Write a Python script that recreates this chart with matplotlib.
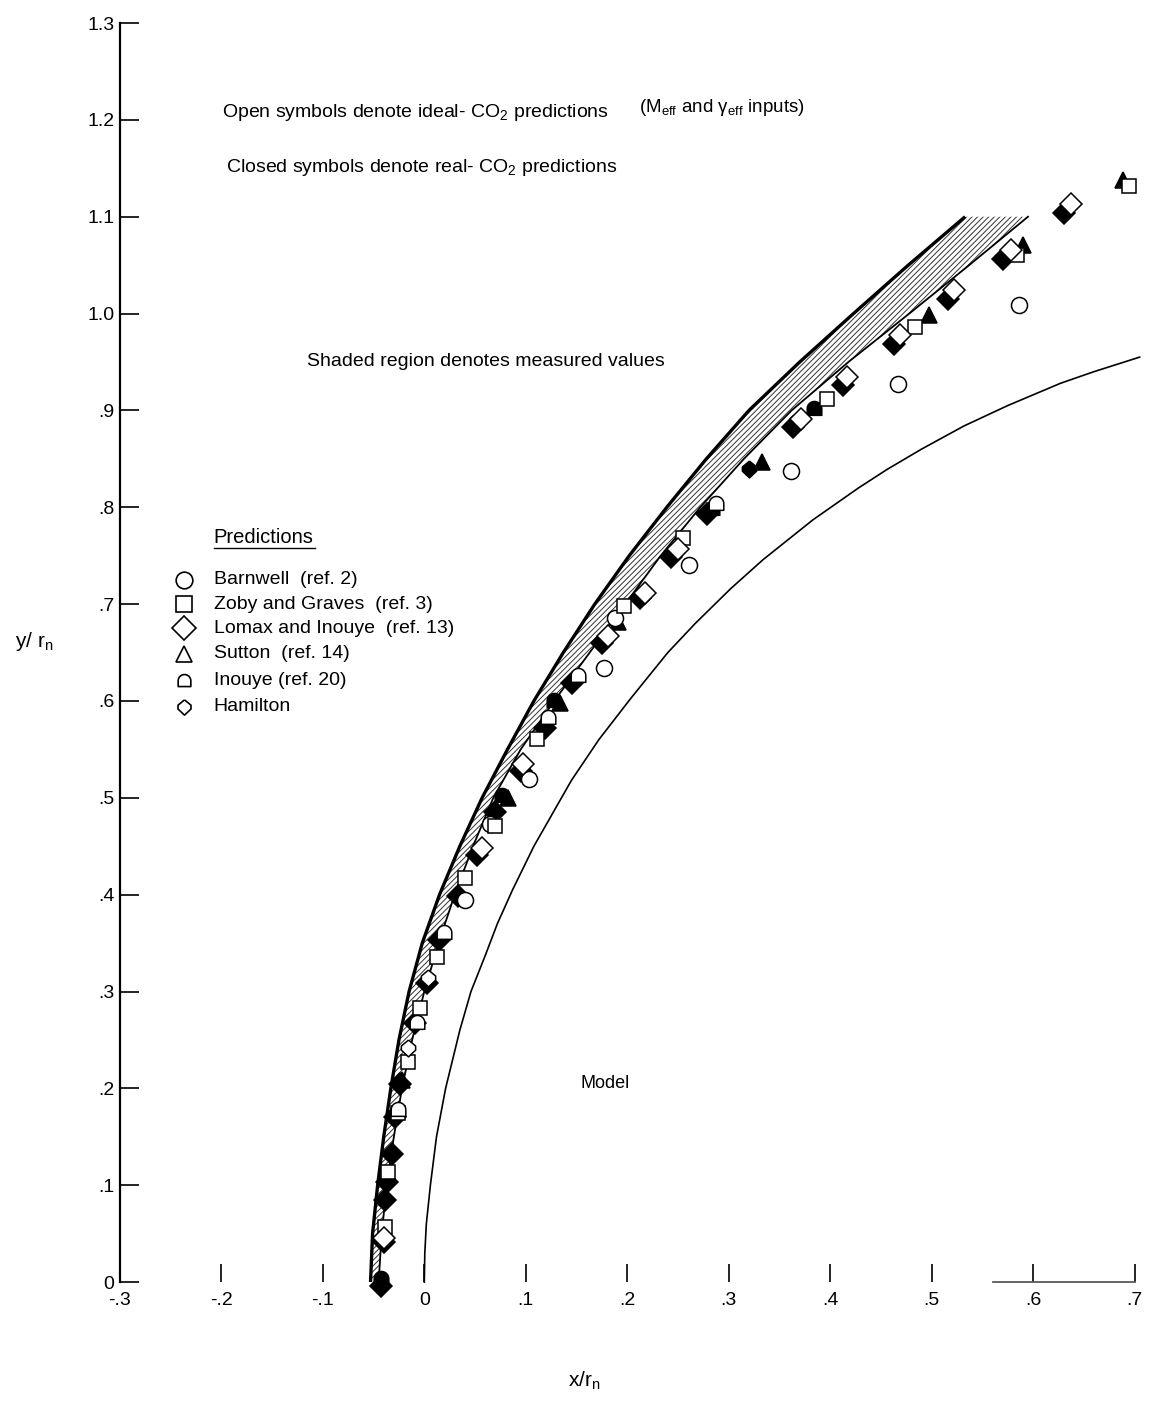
import numpy as np
import matplotlib
matplotlib.use("Agg")
import matplotlib.pyplot as plt

plt.rcParams['font.family'] = ['Liberation Sans', 'DejaVu Sans']
plt.rcParams['mathtext.default'] = 'regular'
plt.rcParams['hatch.linewidth'] = 0.7

# body contour (sphere nose)
model_x = [0.0, 0.0005, 0.002, 0.006, 0.012, 0.021, 0.035, 0.046, 0.060, 0.072,
           0.087, 0.108, 0.145, 0.172, 0.203, 0.240, 0.267, 0.302, 0.334, 0.383,
           0.428, 0.456, 0.490, 0.532, 0.575, 0.627, 0.660, 0.705]
model_y = [0.0, 0.03, 0.06, 0.10, 0.15, 0.20, 0.26, 0.30, 0.337, 0.37,
           0.405, 0.45, 0.518, 0.56, 0.602, 0.65, 0.68, 0.716, 0.746, 0.787,
           0.82, 0.839, 0.86, 0.884, 0.905, 0.928, 0.94, 0.955]

# measured shock band, outer and inner edges
outer_x = [-0.053, -0.051, -0.046, -0.040, -0.033, -0.025, -0.015, -0.002, 0.015, 0.035,
           0.057, 0.082, 0.108, 0.137, 0.168, 0.202, 0.239, 0.278, 0.320, 0.370,
           0.423, 0.477, 0.533]
outer_y = [0.0, 0.05, 0.10, 0.15, 0.20, 0.25, 0.30, 0.35, 0.40, 0.45,
           0.50, 0.55, 0.60, 0.65, 0.70, 0.75, 0.80, 0.85, 0.90, 0.95,
           1.00, 1.05, 1.10]
inner_x = [-0.045, -0.042, -0.037, -0.030, -0.022, -0.012, 0.000, 0.014, 0.030, 0.048,
           0.068, 0.095, 0.128, 0.163, 0.198, 0.233, 0.272, 0.315, 0.362, 0.418,
           0.478, 0.537, 0.595]
inner_y = [0.0, 0.05, 0.10, 0.15, 0.20, 0.25, 0.30, 0.35, 0.40, 0.45,
           0.50, 0.55, 0.60, 0.65, 0.70, 0.75, 0.80, 0.85, 0.90, 0.95,
           1.00, 1.05, 1.10]

# predictions: open = ideal gas, closed = real gas
barnwell_open_x = [0.586, 0.467, 0.361, 0.261, 0.177, 0.188, 0.103, 0.065, 0.040]
barnwell_open_y = [1.009, 0.927, 0.837, 0.740, 0.634, 0.686, 0.519, 0.473, 0.394]

zoby_open_x = [0.695, 0.584, 0.484, 0.397, 0.255, 0.197, 0.111, 0.070, 0.040, 0.013,
               -0.004, -0.016, -0.026, -0.036, -0.039]
zoby_open_y = [1.132, 1.060, 0.986, 0.912, 0.768, 0.698, 0.561, 0.471, 0.417, 0.336,
               0.283, 0.227, 0.175, 0.114, 0.057]

lomax_open_x = [0.637, 0.578, 0.522, 0.469, 0.417, 0.371, 0.250, 0.218, 0.181, 0.097,
                0.057, -0.040]
lomax_open_y = [1.113, 1.066, 1.024, 0.978, 0.935, 0.891, 0.757, 0.711, 0.667, 0.535,
                0.448, 0.045]
lomax_closed_x = [0.630, 0.570, 0.516, 0.463, 0.413, 0.363, 0.279, 0.243, 0.213, 0.175,
                  0.146, 0.119, 0.095, 0.070, 0.052, 0.033, 0.014, 0.003, -0.009, -0.024,
                  -0.029, -0.032, -0.037, -0.039, -0.040, -0.043]
lomax_closed_y = [1.104, 1.056, 1.015, 0.969, 0.926, 0.883, 0.793, 0.749, 0.706, 0.660,
                  0.619, 0.572, 0.528, 0.485, 0.441, 0.399, 0.353, 0.309, 0.268, 0.204,
                  0.170, 0.132, 0.103, 0.085, 0.041, -0.004]

sutton_closed_x = [0.689, 0.590, 0.497, 0.333, 0.191, 0.134, 0.082, -0.022]
sutton_closed_y = [1.138, 1.071, 0.998, 0.847, 0.682, 0.598, 0.500, 0.209]

inouye_open_x = [0.287, 0.151, 0.122, 0.019, -0.007, -0.026]
inouye_open_y = [0.803, 0.626, 0.582, 0.360, 0.268, 0.178]
inouye_closed_x = [0.384, 0.284, 0.128, 0.077, -0.043]
inouye_closed_y = [0.901, 0.798, 0.600, 0.502, 0.003]

hamilton_open_x = [0.004, -0.016]
hamilton_open_y = [0.314, 0.242]
hamilton_closed_x = [0.320]
hamilton_closed_y = [0.839]

legend_names = ['Barnwell  (ref. 2)', 'Zoby and Graves  (ref. 3)',
                'Lomax and Inouye  (ref. 13)', 'Sutton  (ref. 14)',
                'Inouye (ref. 20)', 'Hamilton']
legend_y = [0.725, 0.700, 0.675, 0.649, 0.621, 0.594]

xticks = [-0.3, -0.2, -0.1, 0.0, 0.1, 0.2, 0.3, 0.4, 0.5, 0.6, 0.7]
xtick_labels = ['-.3', '-.2', '-.1', '0', '.1', '.2', '.3', '.4', '.5', '.6', '.7']
yticks = [0.0, 0.1, 0.2, 0.3, 0.4, 0.5, 0.6, 0.7, 0.8, 0.9, 1.0, 1.1, 1.2, 1.3]
ytick_labels = ['0', '.1', '.2', '.3', '.4', '.5', '.6', '.7', '.8', '.9',
                '1.0', '1.1', '1.2', '1.3']

# marker outlines (closed polygons)
t = np.linspace(0, np.pi, 24)
dome = list(zip(np.cos(t), np.sin(t) + 0.1)) + [(-1, -0.8), (1, -0.8), (1, 0.1)]
hexdiamond = [(0, 1), (0.85, 0.3), (0.85, -0.2), (0, -1), (-0.85, -0.2), (-0.85, 0.3), (0, 1)]

fig = plt.figure(figsize=(11.53, 14.03), dpi=100)
ax = fig.add_axes([0.104, 0.0862, 0.880, 0.8974])
ax.set_xlim(-0.3, 0.7)
ax.set_ylim(0, 1.3)

# shaded measured region
band_x = np.concatenate([outer_x, inner_x[::-1]])
band_y = np.concatenate([outer_y, inner_y[::-1]])
ax.fill(band_x, band_y, facecolor='white', edgecolor='0.2', hatch='//////', linewidth=0)
ax.plot(outer_x, outer_y, color='black', lw=2.4, solid_capstyle='butt')
ax.plot(inner_x, inner_y, color='black', lw=1.3)

ax.plot(model_x, model_y, color='black', lw=1.2, clip_on=False)

ms = 11
opn = dict(ls='none', mfc='white', mec='black', mew=1.1, clip_on=False, zorder=4)
cls = dict(ls='none', mfc='black', mec='black', mew=1.1, clip_on=False, zorder=3)

ax.plot(lomax_closed_x, lomax_closed_y, marker='D', ms=ms, **cls)
ax.plot(sutton_closed_x, sutton_closed_y, marker='^', ms=ms * 1.05, **cls)
ax.plot(inouye_closed_x, inouye_closed_y, marker=dome, ms=ms * 1.05, **cls)
ax.plot(hamilton_closed_x, hamilton_closed_y, marker=hexdiamond, ms=ms * 1.1, **cls)

ax.plot(barnwell_open_x, barnwell_open_y, marker='o', ms=ms * 1.05, **opn)
ax.plot(zoby_open_x, zoby_open_y, marker='s', ms=ms * 0.95, **opn)
ax.plot(lomax_open_x, lomax_open_y, marker='D', ms=ms, **opn)
ax.plot(inouye_open_x, inouye_open_y, marker=dome, ms=ms * 1.05, **opn)
ax.plot(hamilton_open_x, hamilton_open_y, marker=hexdiamond, ms=ms * 1.1, **opn)

# symbol key
key_markers = ['o', 's', 'D', '^', dome, hexdiamond]
key_sizes = [12, 11, 12, 11, 10, 11]
for m, s, name, yy in zip(key_markers, key_sizes, legend_names, legend_y):
    ax.plot([-0.2365], [yy], marker=m, ms=s, ls='none', mfc='white', mec='black', mew=1.2)
    ax.text(-0.2074, yy, name, fontsize=14, va='center', ha='left')
ax.text(-0.2074, 0.769, 'Predictions', fontsize=14.5, va='center', ha='left')
ax.plot([-0.2074, -0.1075], [0.7575, 0.7575], color='black', lw=1.0)

ax.text(-0.1995, 1.208, 'Open symbols denote ideal- CO$_2$ predictions', fontsize=14,
        va='center', ha='left')
ax.text(0.212, 1.213, r'(M$_{eff}$ and ' + '\u03b3' + r'$_{eff}$ inputs)', fontsize=13.5,
        va='center', ha='left')
ax.text(-0.1956, 1.151, 'Closed symbols denote real- CO$_2$ predictions', fontsize=14,
        va='center', ha='left')
ax.text(-0.1158, 0.951, 'Shaded region denotes measured values', fontsize=14,
        va='center', ha='left')
ax.text(0.178, 0.205, 'Model', fontsize=13, va='center', ha='center')

# axes: left spine only, inward ticks
for side in ['top', 'right', 'bottom']:
    ax.spines[side].set_visible(False)
ax.spines['left'].set_linewidth(1.6)
ax.axhline(0, xmin=0.86, xmax=1.0, color='0.35', lw=1.3, clip_on=False)

ax.set_xticks(xticks)
ax.set_xticklabels(xtick_labels)
ax.set_yticks(yticks)
ax.set_yticklabels(ytick_labels)
ax.tick_params(axis='x', direction='in', length=13, width=1.2, pad=7, labelsize=14)
ax.tick_params(axis='y', direction='in', length=14, width=1.2, pad=4, labelsize=14)

ax.set_ylabel('y/ r$_n$', rotation=0, fontsize=15)
ax.yaxis.set_label_coords(-0.084, 0.50)
ax.set_xlabel('x/r$_n$', fontsize=15)
ax.xaxis.set_label_coords(0.458, -0.07)

fig.savefig('out.png', dpi=100)
